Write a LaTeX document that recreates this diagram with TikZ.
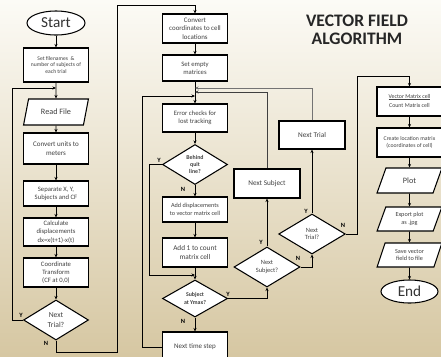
\documentclass[tikz,border=0pt]{standalone}
\usepackage{fontspec}
\setmainfont{Carlito}
\usetikzlibrary{shapes.geometric,arrows.meta}
\definecolor{bgtop}{RGB}{252,251,246}
\definecolor{bgbottom}{RGB}{214,199,162}
\newcommand{\fsz}[1]{\fontsize{#1}{1.22\dimexpr #1pt\relax}\selectfont}
\begin{document}
\begin{tikzpicture}
        [x=0.03cm, y=-0.03cm,
        process/.style={rectangle,draw=black,fill=white,line width=0.9pt,minimum width=1.95cm,inner sep=1pt,align=center,text=black!75},
        io/.style={trapezium,trapezium left angle=70,trapezium right angle=110,trapezium stretches=true,draw=black,fill=white,line width=0.9pt,minimum width=1.95cm,inner sep=1pt,align=center,text=black!75},
        decision/.style={diamond,draw=black,fill=white,line width=0.9pt,minimum width=1.95cm,minimum height=1.2cm,inner sep=0pt,align=center,text=black!75},
        terminal/.style={ellipse,draw=black,fill=white,line width=0.9pt,minimum width=1.74cm,minimum height=0.72cm,inner sep=0pt,text=black!80},
        yn/.style={font=\bfseries\fsz{5.5},text=black,inner sep=0pt},
        arr/.style={-{Stealth[length=3pt,width=2.6pt]},line width=0.75pt}]
        \useasboundingbox (0,0) rectangle (441,356);
        \clip (0,0) rectangle (441,356);
        \shade[top color=bgtop, bottom color=bgbottom] (0,0) rectangle (441,356);
        % first column
        \node (start) at (56,23) [terminal, font=\fsz{13}] {Start};
        \node (files) at (56,65) [process, minimum height=1.02cm, font=\fsz{4.8}] {Set filenames \ \&\\number of subjects of\\each trial};
        \node (read) at (56,112) [io, minimum height=0.78cm, font=\fsz{7}] {Read File};
        \node (units) at (56,148.5) [process, minimum height=0.93cm, font=\fsz{6}] {Convert units to\\meters};
        \node (sep) at (56,193.5) [process, minimum height=0.75cm, font=\fsz{5.7}] {Separate X, Y,\\Subjects and CF};
        \node (disp) at (56,232) [process, minimum height=0.84cm, font=\fsz{5.7}] {Calculate\\displacements\\dx=x(t+1)-x(t)};
        \node (transf) at (56,272.5) [process, minimum height=0.87cm, font=\fsz{5.7}] {Coordinate\\Transform\\(CF at 0,0)};
        \node (trialA) at (56,320) [decision, font=\fsz{6.5}] {Next\\Trial?};
        % second column
        \node (cells) at (195,28.5) [process, minimum height=0.87cm, font=\fsz{5.9}] {Convert\\coordinates to cell\\locations};
        \node (empty) at (195,68) [process, minimum height=0.78cm, font=\fsz{5.7}] {Set empty\\matrices};
        \node (errors) at (195,118) [process, minimum height=0.84cm, font=\fsz{5.7}] {Error checks for\\lost tracking};
        \node (quit) at (195,164.5) [decision, font=\bfseries\fsz{5}] {Behind\\quit\\line?};
        \node (addvec) at (195,209.5) [process, minimum height=0.75cm, font=\fsz{5.3}] {Add displacements\\to vector matrix cell};
        \node (addcnt) at (195,252.5) [process, minimum height=0.87cm, font=\fsz{6.2}] {Add 1 to count\\matrix cell};
        \node (ymax) at (195,298.5) [decision, minimum height=1.11cm, font=\bfseries\fsz{5}] {Subject\\at Ymax?};
        \node (tstep) at (195,347) [process, minimum height=0.9cm, font=\fsz{6}] {Next time step};
        % third column
        \node (subj) at (267,183.5) [process, minimum width=1.98cm, minimum height=0.87cm, font=\fsz{6.2}] {Next Subject};
        \node (subjQ) at (267,267) [decision, minimum width=1.98cm, font=\fsz{5.5}] {Next\\Subject?};
        \node (trial) at (312,135) [process, minimum width=1.98cm, minimum height=0.84cm, font=\fsz{6.2}] {Next Trial};
        \node (trialB) at (312,234) [decision, minimum width=2cm, font=\fsz{5.5}] {Next\\Trial?};
        % fourth column
        \node (title) at (357,30) [align=center, font=\bfseries\fsz{15}, text=black!85] {VECTOR FIELD\\[-3pt]ALGORITHM};
        \node (ratio) at (409.5,101.5) [process, minimum height=0.87cm, font=\fsz{5}] {\begin{tabular}{@{}c@{}}Vector Matrix cell\\[-1pt]\hline\rule{0pt}{6.5pt}Count Matrix cell\end{tabular}};
        \node (locmat) at (409.5,142.5) [process, minimum height=0.87cm, font=\fsz{4.9}] {Create location matrix\\(coordinates of cell)};
        \node (plot) at (409.5,180.5) [io, minimum height=0.75cm, font=\fsz{7}] {Plot};
        \node (export) at (409.5,219) [io, minimum height=0.72cm, font=\fsz{5.3}] {Export plot\\as .jpg};
        \node (save) at (409.5,255) [io, minimum height=0.72cm, font=\fsz{5.3}] {Save vector\\field to file};
        \node (end) at (409.5,291.5) [terminal, minimum width=1.71cm, minimum height=0.69cm, font=\fsz{13}] {End};
        % junctions
        \coordinate (jread) at (56,88);
        \coordinate (jtrial) at (195,88);
        \coordinate (jsubj) at (195,92);
        \coordinate (jtime) at (195,96);
        \coordinate (jcount) at (195,275);
        \coordinate (topA) at (117,5);
        \coordinate (topB) at (357,76);
        % connectors
        \draw[arr] (start) -- (files);
        \draw[arr] (files) -- (read);
        \draw[arr] (read) -- (units);
        \draw[arr] (units) -- (sep);
        \draw[arr] (sep) -- (disp);
        \draw[arr] (disp) -- (transf);
        \draw[arr] (transf) -- (trialA);
        \draw[arr] (trialA.west) -- ++(-11,0) |- (jread);
        \draw[arr] (trialA.south) -- ++(0,12) -| (topA) -| (cells.north);
        \draw[arr] (cells) -- (empty);
        \draw[arr] (empty) -- (errors);
        \draw[arr] (errors) -- (quit);
        \draw[arr] (quit) -- (addvec);
        \draw[arr] (addvec) -- (addcnt);
        \draw[arr] (addcnt) -- (ymax);
        \draw[arr] (quit.west) -- ++(-13,0) |- (jcount);
        \draw[arr] (ymax) -- (tstep);
        \draw[arr] (tstep.west) -- ++(-20,0) |- (jtime);
        \draw[arr] (ymax.east) -| (subjQ.south);
        \draw[arr] (subjQ) -- (subj);
        \draw[arr, black!75] (subj.north) |- (jsubj);
        \draw[arr] (subjQ.east) -| (trialB.south);
        \draw[arr] (trialB) -- (trial);
        \draw[arr, black!55] (trial.north) |- (jtrial);
        \draw[arr] (trialB.east) -| (topB) -| (ratio.north);
        \draw[arr] (ratio) -- (locmat);
        \draw[arr] (locmat) -- (plot);
        \draw[arr] (plot) -- (export);
        \draw[arr] (export) -- (save);
        \draw[arr] (save) -- (end);
        % branch labels
        \node (yA) at (21,315) [yn] {Y};
        \node (nA) at (46,343) [yn] {N};
        \node (yQ) at (159,160) [yn] {Y};
        \node (nQ) at (183,189) [yn] {N};
        \node (yM) at (228,294) [yn] {Y};
        \node (nM) at (183,321) [yn] {N};
        \node (yS) at (261,242) [yn] {Y};
        \node (nS) at (298,258) [yn] {N};
        \node (yT) at (306,211) [yn] {Y};
        \node (nT) at (343,225) [yn] {N};
\end{tikzpicture}
\end{document}
